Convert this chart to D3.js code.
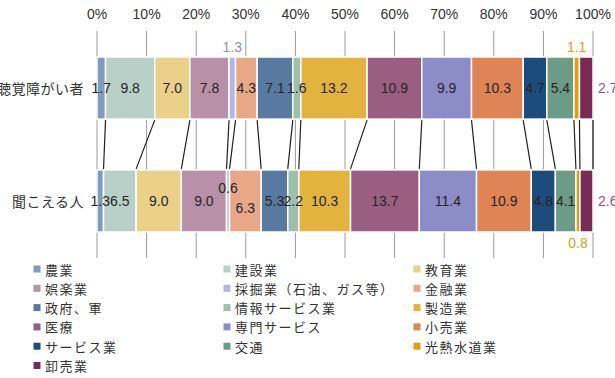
<!DOCTYPE html>
<html>
<head>
<meta charset="utf-8">
<script src="https://cdn.jsdelivr.net/npm/d3@7"></script>
<style>
  body { margin: 0; background: #fff; }
  svg { display: block; font-family: "Liberation Sans", "Noto Sans CJK JP", sans-serif; }
  .grid line { stroke: #9a9a9a; stroke-width: 1; }
  .tick-label { font-size: 14px; fill: #333; }
  .cat-label { font-family: "Noto Sans CJK JP", sans-serif; font-size: 14px; fill: #333; letter-spacing: 0.5px; }
  .val { font-size: 14px; fill: #262626; }
  .legend text { font-family: "Noto Sans CJK JP", sans-serif; font-size: 13px; fill: #333; letter-spacing: 1.5px; }
</style>
</head>
<body>
<svg id="chart" width="615" height="378"></svg>
<script>
// Data (percent of each group)
const categories = ['聴覚障がい者', '聞こえる人'];
const industries = [
  '農業', '建設業', '教育業',
  '娯楽業', '採掘業（石油、ガス等）', '金融業',
  '政府、軍', '情報サービス業', '製造業',
  '医療', '専門サービス', '小売業',
  'サービス業', '交通', '光熱水道業',
  '卸売業'
];
const deafValues    = [1.7, 9.8, 7.0, 7.8, 1.3, 4.3, 7.1, 1.6, 13.2, 10.9, 9.9, 10.3, 4.7, 5.4, 1.1, 2.7];
const hearingValues = [1.3, 6.5, 9.0, 9.0, 0.6, 6.3, 5.3, 2.2, 10.3, 13.7, 11.4, 10.9, 4.8, 4.1, 0.8, 2.6];
const tickValues = [0, 0.1, 0.2, 0.3, 0.4, 0.5, 0.6, 0.7, 0.8, 0.9, 1];
const tickLabels = ['0%', '10%', '20%', '30%', '40%', '50%', '60%', '70%', '80%', '90%', '100%'];

const colors = [
  '#7f9bbd', '#b8d0c8', '#ebd08a',
  '#b891a8', '#b5b5e0', '#e8a888',
  '#587aa0', '#9cbfae', '#e2b43f',
  '#9a5f80', '#8c8cc8', '#de8455',
  '#1d4c7c', '#6c9c88', '#d8a212',
  '#7b2a58'
];

// Labels that sit outside (or nudged inside) their segment: key = "row-index"
const labelPlacement = {
  '0-4':  { pos: 'above', color: '#8c8cd0' },
  '0-14': { pos: 'above', color: '#d8a212' },
  '0-15': { pos: 'right', color: '#a0507c' },
  '1-4':  { pos: 'inside', dy: -13 },
  '1-5':  { pos: 'inside', dy: 7 },
  '1-14': { pos: 'below', color: '#d8a212' },
  '1-15': { pos: 'right', color: '#a0507c' }
};

const svg = d3.select('#chart');

// Table for d3.stack
const table = categories.map((c, i) => {
  const row = { cat: c };
  const vals = i === 0 ? deafValues : hearingValues;
  industries.forEach((k, j) => { row[k] = vals[j]; });
  return row;
});

const series = d3.stack()
    .keys(industries)
    .offset(d3.stackOffsetExpand)(table);

const x = d3.scaleLinear().domain([0, 1]).range([97, 593]);
const y = d3.scaleBand()
    .domain(categories)
    .range([57, 232])
    .paddingInner(0.45)
    .paddingOuter(0);

// Grid lines
svg.append('g')
    .attr('class', 'grid')
  .selectAll('line')
  .data(tickValues)
  .join('line')
    .attr('x1', d => x(d)).attr('x2', d => x(d))
    .attr('y1', 31).attr('y2', 258);

// Tick labels at top
svg.append('g')
  .selectAll('text')
  .data(tickValues)
  .join('text')
    .attr('class', 'tick-label')
    .attr('x', d => x(d))
    .attr('y', 14)
    .attr('text-anchor', 'middle')
    .attr('dominant-baseline', 'central')
    .text((d, i) => tickLabels[i]);

// Bars
const layer = svg.append('g')
  .selectAll('g')
  .data(series)
  .join('g')
    .attr('fill', (d, i) => colors[i]);

layer.selectAll('rect')
  .data(d => d)
  .join('rect')
    .attr('x', d => x(d[0]))
    .attr('y', d => y(d.data.cat))
    .attr('width', d => x(d[1]) - x(d[0]))
    .attr('height', y.bandwidth())
    .attr('stroke', '#fff')
    .attr('stroke-width', 1.5);

// Connector lines between the two bars at every boundary
const topY = y(categories[0]) + y.bandwidth() + 1;
const botY = y(categories[1]) - 1;
svg.append('g')
  .selectAll('line')
  .data(series)
  .join('line')
    .attr('x1', d => x(d[0][1]))
    .attr('x2', d => x(d[1][1]))
    .attr('y1', topY)
    .attr('y2', botY)
    .attr('stroke', '#222')
    .attr('stroke-width', 1.2);

// Category labels
svg.append('g')
  .selectAll('text')
  .data(categories)
  .join('text')
    .attr('class', 'cat-label')
    .attr('x', 84)
    .attr('y', d => y(d) + y.bandwidth() / 2)
    .attr('text-anchor', 'end')
    .attr('dominant-baseline', 'central')
    .text(d => d);

// Value labels
const labels = [];
series.forEach((s, j) => {
  s.forEach((d, i) => {
    const raw = i === 0 ? deafValues[j] : hearingValues[j];
    const p = labelPlacement[i + '-' + j] || { pos: 'inside' };
    const cy = y(d.data.cat) + y.bandwidth() / 2;
    let lx = (x(d[0]) + x(d[1])) / 2, ly = cy, anchor = 'middle';
    if (p.pos === 'above') ly = y(d.data.cat) - 10;
    if (p.pos === 'below') ly = y(d.data.cat) + y.bandwidth() + 11;
    if (p.pos === 'right') { lx = x(1) + 5; anchor = 'start'; }
    if (p.dy) ly += p.dy;
    labels.push({ text: raw.toFixed(1), x: lx, y: ly, anchor, color: p.color || '#262626' });
  });
});

svg.append('g')
  .selectAll('text')
  .data(labels)
  .join('text')
    .attr('class', 'val')
    .attr('x', d => d.x)
    .attr('y', d => d.y)
    .attr('text-anchor', d => d.anchor)
    .attr('dominant-baseline', 'central')
    .style('fill', d => d.color)
    .text(d => d.text);

// Legend: three columns, row-major
const legendCols = [37, 227, 417];
const legend = svg.append('g')
    .attr('class', 'legend')
  .selectAll('g')
  .data(industries)
  .join('g')
    .attr('transform', (d, i) => `translate(${legendCols[i % 3]},${269 + Math.floor(i / 3) * 19.3})`);

legend.append('rect')
    .attr('x', -3.5).attr('y', -3.5)
    .attr('width', 7).attr('height', 7)
    .attr('fill', (d, i) => colors[i]);

legend.append('text')
    .attr('x', 8)
    .attr('dominant-baseline', 'central')
    .text(d => d);
</script>
</body>
</html>
